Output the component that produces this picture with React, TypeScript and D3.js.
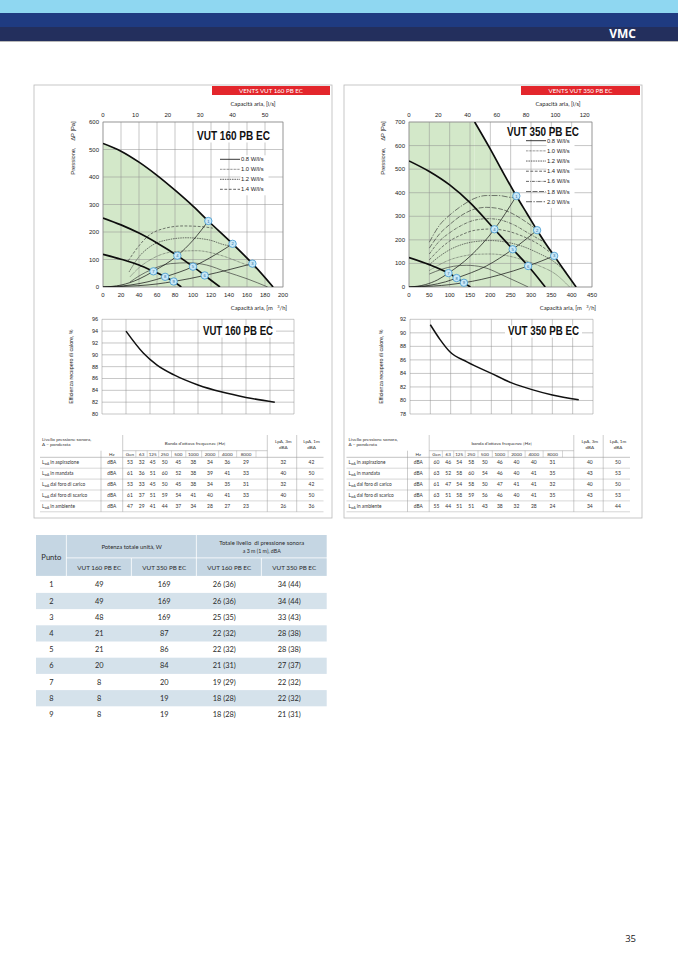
import * as d3 from "d3";

type Pt = [number, number];

// ---------- VUT 160 PB EC : pressure vs air flow ----------
const flow160Ticks = [0, 20, 40, 60, 80, 100, 120, 140, 160, 180, 200];
const ls160Ticks = [0, 10, 20, 30, 40, 50];
const pres160Ticks = [0, 100, 200, 300, 400, 500, 600];
const fanHigh160: Pt[] = [[0, 522], [20, 494], [40, 454], [60, 406], [80, 352], [100, 294], [117, 240], [144, 157], [166, 85], [189, 0]];
const fanMid160: Pt[] = [[0, 251], [20, 226], [40, 196], [60, 160], [82.6, 114], [100, 74], [113, 42], [130, 0]];
const fanLow160: Pt[] = [[0, 119], [20, 101], [40, 80], [56, 57], [69, 37], [78.5, 20], [87, 0]];
const sysA160: Pt[] = [[0, 0], [20, 7], [40, 29], [56, 57], [82.6, 114], [100, 170], [117, 240]];
const sysB160: Pt[] = [[0, 0], [30, 7], [50, 19], [69, 37], [100, 74], [125, 118], [144, 157]];
const sysC160: Pt[] = [[0, 0], [40, 5], [60, 11], [78.5, 20], [113, 42], [140, 63], [166, 85]];
const points160: Pt[] = [[117, 240], [144, 157], [166, 85], [82.6, 114], [100, 74], [113, 42], [56, 57], [69, 37], [78.5, 20]];
const power160: { label: string; pts: Pt[] }[] = [
  { label: "0.8 W/l/s", pts: [[30, 18], [40, 40], [55, 65], [75, 85], [95, 88], [115, 80], [137, 55], [160, 30], [183, 0]] },
  { label: "1.0 W/l/s", pts: [[30, 37], [40, 70], [52, 98], [78, 128], [104, 132], [130, 116], [156, 85], [170, 68]] },
  { label: "1.2 W/l/s", pts: [[29, 55], [40, 110], [52, 146], [74, 173], [93, 179], [118, 171], [137, 152], [145, 150]] },
  { label: "1.4 W/l/s", pts: [[28, 95], [40, 150], [50, 185], [67, 212], [89, 222], [111, 219], [122, 214]] },
];

// ---------- VUT 350 PB EC : pressure vs air flow ----------
const flow350Ticks = [0, 50, 100, 150, 200, 250, 300, 350, 400, 450];
const ls350Ticks = [0, 20, 40, 60, 80, 100, 120];
const pres350Ticks = [0, 100, 200, 300, 400, 500, 600, 700];
const fanHigh350: Pt[] = [[161.5, 700], [200, 585], [230, 490], [264, 386], [290, 312], [315, 241], [335, 187], [357, 132], [385, 63], [411, 0]];
const fanMid350: Pt[] = [[0, 535], [50, 490], [100, 433], [150, 358], [210, 245], [255, 160], [293, 89], [335, 0]];
const fanLow350: Pt[] = [[0, 125], [50, 95], [97, 59], [117, 38], [135, 18], [151, 0]];
const sysA350: Pt[] = [[0, 0], [40, 10], [70, 30], [97, 59], [150, 130], [210, 245], [264, 386]];
const sysB350: Pt[] = [[0, 0], [50, 7], [90, 22], [117, 38], [190, 89], [255, 160], [315, 241]];
const sysC350: Pt[] = [[0, 0], [60, 4], [100, 10], [135, 18], [220, 50], [293, 89], [357, 132]];
const points350: Pt[] = [[264, 386], [315, 241], [357, 132], [210, 245], [255, 160], [293, 89], [97, 59], [117, 38], [135, 18]];
const power350: { label: string; pts: Pt[] }[] = [
  { label: "0.8 W/l/s", pts: [[50, 55], [80, 75], [110, 88], [141, 92], [180, 85], [239, 43], [293, 0]] },
  { label: "1.0 W/l/s", pts: [[50, 70], [75, 95], [100, 115], [130, 130], [160, 138], [200, 140], [240, 133], [280, 115], [320, 90], [360, 55], [395, 0]] },
  { label: "1.2 W/l/s", pts: [[50, 95], [75, 130], [100, 158], [130, 180], [160, 192], [200, 197], [240, 190], [280, 172], [320, 142], [350, 115], [388, 62]] },
  { label: "1.4 W/l/s", pts: [[50, 115], [75, 160], [100, 195], [130, 222], [160, 240], [200, 246], [240, 238], [280, 215], [320, 180], [358, 132]] },
  { label: "1.6 W/l/s", pts: [[50, 140], [75, 195], [100, 230], [130, 262], [160, 283], [195, 290], [230, 282], [260, 262], [290, 232], [335, 188]] },
  { label: "1.8 W/l/s", pts: [[50, 165], [75, 225], [100, 265], [130, 305], [160, 330], [190, 338], [220, 333], [250, 315], [280, 285], [312, 246]] },
  { label: "2.0 W/l/s", pts: [[50, 190], [75, 262], [100, 305], [130, 345], [160, 375], [190, 388], [220, 388], [250, 380], [266, 378]] },
];

// ---------- heat recovery efficiency ----------
const eff160XTicks = [0, 25, 50, 75, 100, 125, 150, 175, 200];
const eff160YTicks = [80, 82, 84, 86, 88, 90, 92, 94, 96];
const eff160: Pt[] = [[25, 94], [43, 90.3], [57, 88.3], [75, 86.6], [100, 84.9], [125, 83.7], [150, 82.8], [180, 82.0]];
const eff350XTicks = [0, 50, 100, 150, 200, 250, 300, 350, 400, 450];
const eff350YTicks = [78, 80, 82, 84, 86, 88, 90, 92];
const eff350: Pt[] = [[50, 91.2], [74, 89], [98, 87.2], [140, 85.7], [200, 84], [250, 82.6], [300, 81.6], [350, 80.8], [415, 80.1]];

// ---------- sound tables ----------
const octaveBands = ["Gen", "63", "125", "250", "500", "1000", "2000", "4000", "8000"];
const soundRows = ["in aspirazione", "in mandata", "dal foro di carico", "dal foro di scarico", "in ambiente"];
const sound160 = [
  [53, 32, 45, 50, 45, 38, 34, 36, 29, 32, 42],
  [61, 36, 51, 60, 52, 38, 39, 41, 33, 40, 50],
  [53, 33, 45, 50, 45, 38, 34, 35, 31, 32, 42],
  [61, 37, 51, 59, 54, 41, 40, 41, 33, 40, 50],
  [47, 29, 41, 44, 37, 34, 28, 27, 23, 26, 36],
];
const sound350 = [
  [60, 46, 54, 58, 50, 46, 40, 40, 31, 40, 50],
  [63, 52, 58, 60, 54, 46, 40, 41, 35, 43, 53],
  [61, 47, 54, 58, 50, 47, 41, 41, 32, 40, 50],
  [63, 51, 58, 59, 56, 46, 40, 41, 35, 43, 53],
  [55, 44, 51, 51, 43, 38, 32, 28, 24, 34, 44],
];

// ---------- summary table ----------
const punti = [1, 2, 3, 4, 5, 6, 7, 8, 9];
const potenza160 = [49, 49, 48, 21, 21, 20, 8, 8, 8];
const potenza350 = [169, 169, 169, 87, 86, 84, 20, 19, 19];
const lp160 = ["26 (36)", "26 (36)", "25 (35)", "22 (32)", "22 (32)", "21 (31)", "19 (29)", "18 (28)", "18 (28)"];
const lp350 = ["34 (44)", "34 (44)", "33 (43)", "28 (38)", "28 (38)", "27 (37)", "22 (32)", "22 (32)", "21 (31)"];

const FC = "'Liberation Sans', Arial, sans-serif";
const FD = "Lato, 'Open Sans', sans-serif";
const GRID = "#8f8f8f";
const GREEN = "#d3e8c9";

const dashFor: Record<string, string> = {
  "0.8": "",
  "1.0": "0.7,0.7",
  "1.2": "1.6,0.8",
  "1.4": "2.8,1.6",
  "1.6": "3,1,0.8,1",
  "1.8": "5,1.5",
  "2.0": "6,1.4,1.4,1.4",
};

interface PressureProps {
  id: string;
  left: number; right: number; top: number; bottom: number;
  flowMax: number; presMax: number;
  flowTicks: number[]; lsTicks: number[]; presTicks: number[];
  fans: Pt[][]; systems: Pt[][]; powers: { label: string; pts: Pt[] }[]; points: Pt[];
  title: string; titleX: number; titleY: number; titleW: number;
  legendX: number; legendY: number; legendStep: number;
  yTitleX: number; topTitleX: number;
}

function PressureChart(p: PressureProps) {
  const x = d3.scaleLinear().domain([0, p.flowMax]).range([p.left, p.right]);
  const y = d3.scaleLinear().domain([0, p.presMax]).range([p.bottom, p.top]);
  const xls = d3.scaleLinear().domain([0, p.flowMax / 3.6]).range([p.left, p.right]);
  const line = d3.line<Pt>().x((d) => x(d[0])).y((d) => y(d[1])).curve(d3.curveMonotoneX);
  const area = d3.area<Pt>().x((d) => x(d[0])).y0(y(0)).y1((d) => y(d[1])).curve(d3.curveMonotoneX);
  const high = p.fans[0];
  return (
    <g>
      <defs>
        <clipPath id={p.id}>
          <rect x={p.left} y={p.top} width={p.right - p.left} height={p.bottom - p.top} />
        </clipPath>
      </defs>
      <g clipPath={`url(#${p.id})`}>
        <rect x={x(0)} y={p.top} width={x(high[0][0]) - x(0)} height={p.bottom - p.top} fill={GREEN} />
        <path d={area(high) || ""} fill={GREEN} />
      </g>
      {p.flowTicks.map((t) => (
        <line key={"vx" + t} x1={x(t)} x2={x(t)} y1={p.top} y2={p.bottom} stroke={GRID} strokeWidth={0.5} />
      ))}
      {p.presTicks.map((t) => (
        <line key={"hy" + t} x1={p.left} x2={p.right} y1={y(t)} y2={y(t)} stroke={GRID} strokeWidth={0.5} />
      ))}
      <rect x={p.left} y={p.top} width={p.right - p.left} height={p.bottom - p.top} fill="none" stroke={GRID} strokeWidth={0.6} />
      {/* title + legend */}
      <rect x={p.titleX - 3} y={p.titleY - 9} width={p.titleW + 6} height={12} fill="#fff" />
      <text x={p.titleX} y={p.titleY} fontFamily={FC} fontWeight="bold" fontSize={12} fill="#111"
        textLength={p.titleW} lengthAdjust="spacingAndGlyphs">{p.title}</text>
      <rect x={p.legendX + 20.5} y={p.legendY - 4} width={28} height={p.legendStep * p.powers.length} fill="#fff" />
      {p.powers.map((pw, i) => {
        const ly = p.legendY + i * p.legendStep;
        return (
          <g key={pw.label}>
            <line x1={p.legendX} x2={p.legendX + 20} y1={ly} y2={ly} stroke="#222"
              strokeWidth={pw.label.startsWith("0.8") ? 0.9 : 0.7} strokeDasharray={dashFor[pw.label.slice(0, 3)]} />
            <text x={p.legendX + 21} y={ly + 2} fontFamily={FC} fontSize={5.8} fill="#222">{pw.label}</text>
          </g>
        );
      })}
      <g clipPath={`url(#${p.id})`} fill="none">
        {p.powers.map((pw) => (
          <path key={"pw" + pw.label} d={line(pw.pts) || ""} stroke="#333" strokeWidth={0.65}
            strokeDasharray={dashFor[pw.label.slice(0, 3)]} />
        ))}
        {p.systems.map((s, i) => (
          <path key={"sys" + i} d={line(s) || ""} stroke="#1a1a1a" strokeWidth={0.75} />
        ))}
        {p.fans.map((f, i) => (
          <path key={"fan" + i} d={line(f) || ""} stroke="#0d0d0d" strokeWidth={1.7} />
        ))}
      </g>
      {p.points.map((pt, i) => (
        <g key={"pt" + i}>
          <circle cx={x(pt[0])} cy={y(pt[1])} r={3.7} fill="#c9e8f7" stroke="#3f97cf" strokeWidth={0.8} />
          <text x={x(pt[0])} y={y(pt[1]) + 1.5} textAnchor="middle" fontFamily={FC} fontSize={4.2} fill="#2a6f9e">{i + 1}</text>
        </g>
      ))}
      {/* axes labels */}
      {p.presTicks.map((t) => (
        <text key={"yl" + t} x={p.left - 4} y={y(t) + 2} textAnchor="end" fontFamily={FC} fontSize={6} fill="#222">{t}</text>
      ))}
      {p.flowTicks.map((t) => (
        <text key={"xl" + t} x={x(t)} y={p.bottom + 10} textAnchor="middle" fontFamily={FC} fontSize={6} fill="#222">{t}</text>
      ))}
      {p.lsTicks.map((t) => (
        <text key={"ls" + t} x={xls(t)} y={p.top - 5} textAnchor="middle" fontFamily={FC} fontSize={6} fill="#222">{t}</text>
      ))}
      <text x={p.topTitleX} y={p.top - 16} textAnchor="middle" fontFamily={FD} fontSize={5.8} fill="#222">
        Capacità aria, [l/s]
      </text>
      <text x={p.right + 4} y={p.bottom + 23} textAnchor="end" fontFamily={FD} fontSize={5.8} fill="#222" style={{ whiteSpace: "pre" }}>
        {"Capacità aria, [m   "}
        <tspan fontSize={4} dy={-2}>3</tspan>
        <tspan dy={2}>/h]</tspan>
      </text>
      <text transform={`translate(${p.yTitleX},${p.top + 26}) rotate(-90)`} textAnchor="middle" fontFamily={FC} fontSize={5.8} fill="#222"
        style={{ whiteSpace: "pre" }}>
        {"Pressione,    ΔP [Pa]"}
      </text>
    </g>
  );
}

interface EffProps {
  left: number; right: number; top: number; bottom: number;
  xTicks: number[]; yTicks: number[]; data: Pt[];
  title: string; titleX: number; titleY: number; titleW: number; yTitleX: number;
}

function EfficiencyChart(p: EffProps) {
  const x = d3.scaleLinear().domain([p.xTicks[0], p.xTicks[p.xTicks.length - 1]]).range([p.left, p.right]);
  const y = d3.scaleLinear().domain([p.yTicks[0], p.yTicks[p.yTicks.length - 1]]).range([p.bottom, p.top]);
  const line = d3.line<Pt>().x((d) => x(d[0])).y((d) => y(d[1])).curve(d3.curveMonotoneX);
  return (
    <g>
      {p.xTicks.map((t) => (
        <line key={"vx" + t} x1={x(t)} x2={x(t)} y1={p.top} y2={p.bottom} stroke={GRID} strokeWidth={0.5} />
      ))}
      {p.yTicks.map((t) => (
        <line key={"hy" + t} x1={p.left} x2={p.right} y1={y(t)} y2={y(t)} stroke={GRID} strokeWidth={0.5} />
      ))}
      {p.yTicks.map((t) => (
        <text key={"yl" + t} x={p.left - 4} y={y(t) + 2} textAnchor="end" fontFamily={FC} fontSize={5.5} fill="#222">{t}</text>
      ))}
      <rect x={p.titleX - 3} y={p.titleY - 9} width={p.titleW + 6} height={12} fill="#fff" />
      <text x={p.titleX} y={p.titleY} fontFamily={FC} fontWeight="bold" fontSize={12} fill="#111"
        textLength={p.titleW} lengthAdjust="spacingAndGlyphs">{p.title}</text>
      <path d={line(p.data) || ""} fill="none" stroke="#111" strokeWidth={1.5} />
      <text transform={`translate(${p.yTitleX},${(p.top + p.bottom) / 2}) rotate(-90)`} textAnchor="middle" fontFamily={FC} fontSize={5.3} fill="#222">
        Efficienza recupero di calore, %
      </text>
    </g>
  );
}

function SoundTable({ dx, data, bandTitle }: { dx: number; data: number[][]; bandTitle: string }) {
  const octX = [130, 141.7, 152.7, 164.7, 178.3, 193.3, 210, 227.3, 246].map((v) => v + dx);
  const sep = octX.slice(1).map((v, i) => (v + octX[i]) / 2);
  const c3 = 283.3 + dx, c1 = 311.5 + dx;
  const vHz = 101 + dx, vGen = 122.7 + dx, v3 = 267.3 + dx, v1 = 296.7 + dx, xEnd = 323.5 + dx, xStart = 40 + dx;
  const top = 435, h1 = 450.7, h2 = 457.3, rowH = 10.9;
  const rowsY = data.map((_, i) => h2 + i * rowH);
  const bottom = h2 + data.length * rowH;
  const ln = "#9a9a9a";
  return (
    <g fontFamily={FD} fill="#333">
      <line x1={vGen} x2={vGen} y1={top} y2={bottom} stroke={ln} strokeWidth={0.5} />
      <line x1={v3} x2={v3} y1={top} y2={bottom} stroke={ln} strokeWidth={0.5} />
      <line x1={v1} x2={v1} y1={top} y2={bottom} stroke={ln} strokeWidth={0.5} />
      <line x1={vHz} x2={vHz} y1={h1} y2={bottom} stroke={ln} strokeWidth={0.5} />
      <line x1={vGen} x2={v3} y1={h1} y2={h1} stroke={ln} strokeWidth={0.5} />
      {sep.map((s, i) => (
        <line key={"s" + i} x1={s} x2={s} y1={h1} y2={h2} stroke={ln} strokeWidth={0.4} />
      ))}
      <line x1={246 + dx + 10} x2={246 + dx + 10} y1={h1} y2={h2} stroke={ln} strokeWidth={0.4} />
      {rowsY.map((ry, i) => (
        <line key={"r" + i} x1={xStart} x2={xEnd} y1={ry} y2={ry} stroke={ln} strokeWidth={i === 0 ? 0.6 : 0.4} />
      ))}
      <line x1={xStart} x2={xEnd} y1={bottom} y2={bottom} stroke={ln} strokeWidth={0.4} />
      <text x={xStart + 2} y={440.5} fontSize={4.6}>Livello pressione sonora,</text>
      <text x={xStart + 2} y={446} fontSize={4.6}>A – ponderata</text>
      <text x={(vHz + vGen) / 2} y={455.6} fontSize={4.6} textAnchor="middle">Hz</text>
      <text x={(vGen + v3) / 2} y={444.5} fontSize={4.6} textAnchor="middle">{bandTitle}</text>
      {octaveBands.map((b, i) => (
        <text key={b} x={octX[i]} y={455.6} fontSize={4.6} textAnchor="middle">{b}</text>
      ))}
      <text x={c3} y={443} fontSize={4.6} textAnchor="middle">LpA, 3m</text>
      <text x={c3} y={448.5} fontSize={4.6} textAnchor="middle">dBA</text>
      <text x={c1} y={443} fontSize={4.6} textAnchor="middle">LpA, 1m</text>
      <text x={c1} y={448.5} fontSize={4.6} textAnchor="middle">dBA</text>
      {data.map((row, r) => {
        const ty = rowsY[r] + rowH / 2 + 1.7;
        return (
          <g key={"row" + r}>
            <text x={xStart + 2} y={ty} fontSize={4.8}>
              L<tspan fontSize={3.2} dy={1}>wA</tspan>
              <tspan dy={-1}>{" " + soundRows[r]}</tspan>
            </text>
            <text x={(vHz + vGen) / 2} y={ty} fontSize={4.8} textAnchor="middle">dBA</text>
            {row.slice(0, 9).map((v, i) => (
              <text key={i} x={octX[i]} y={ty} fontSize={5} textAnchor="middle">{v}</text>
            ))}
            <text x={c3} y={ty} fontSize={5} textAnchor="middle">{row[9]}</text>
            <text x={c1} y={ty} fontSize={5} textAnchor="middle">{row[10]}</text>
          </g>
        );
      })}
    </g>
  );
}

function SummaryTable() {
  const cols = [36, 66.7, 131.7, 196.7, 261.7, 326.7];
  const top = 535, h1 = 558.3, h2 = 576.7, rowH = 16.2;
  const head = "#c5d6e3", band = "#d5e2eb";
  const cx = (i: number) => (cols[i] + cols[i + 1]) / 2;
  return (
    <g fontFamily={FD} fill="#2b2b2b">
      <rect x={cols[0]} y={top} width={cols[1] - cols[0] - 0.8} height={h2 - top - 0.8} fill={head} />
      <rect x={cols[1]} y={top} width={cols[3] - cols[1] - 0.8} height={h1 - top - 0.8} fill={head} />
      <rect x={cols[3]} y={top} width={cols[5] - cols[3]} height={h1 - top - 0.8} fill={head} />
      {[1, 2, 3, 4].map((i) => (
        <rect key={"sh" + i} x={cols[i]} y={h1} width={cols[i + 1] - cols[i] - (i < 4 ? 0.8 : 0)} height={h2 - h1 - 0.8} fill={head} />
      ))}
      <text x={cx(0)} y={h1 + 2} fontSize={7.6} textAnchor="middle">Punto</text>
      <text x={(cols[1] + cols[3]) / 2} y={548.8} fontSize={5.9} textAnchor="middle">Potenza totale unità, W</text>
      <text x={(cols[3] + cols[5]) / 2} y={544.8} fontSize={5.9} textAnchor="middle" style={{ whiteSpace: "pre" }}>Totale livello  di pressione sonora</text>
      <text x={(cols[3] + cols[5]) / 2} y={552.8} fontSize={5.3} textAnchor="middle">a 3 m (1 m), dBA</text>
      {["VUT 160 PB EC", "VUT 350 PB EC", "VUT 160 PB EC", "VUT 350 PB EC"].map((s, i) => (
        <text key={"sub" + i} x={cx(i + 1)} y={570} fontSize={6.3} textAnchor="middle">{s}</text>
      ))}
      {punti.map((pn, r) => {
        const ry = h2 + r * rowH;
        const ty = ry + rowH / 2 + 2.6;
        return (
          <g key={"pr" + r}>
            {r % 2 === 1 && <rect x={cols[0]} y={ry} width={cols[5] - cols[0]} height={rowH} fill={band} />}
            <text x={cx(0)} y={ty} fontSize={7.4} textAnchor="middle">{pn}</text>
            <text x={cx(1)} y={ty} fontSize={7.4} textAnchor="middle">{potenza160[r]}</text>
            <text x={cx(2)} y={ty} fontSize={7.4} textAnchor="middle">{potenza350[r]}</text>
            <text x={cx(3) - 5} y={ty} fontSize={7.4} textAnchor="middle">{lp160[r]}</text>
            <text x={cx(4) - 5} y={ty} fontSize={7.4} textAnchor="middle">{lp350[r]}</text>
          </g>
        );
      })}
    </g>
  );
}

export default function App() {
  return (
    <svg width={678} height={959} viewBox="0 0 678 959"
      style={{ position: "absolute", left: 0, top: 0, background: "#fff" }}>
      {/* page header */}
      <rect x={0} y={0} width={678} height={13} fill="#8fd7f1" />
      <rect x={0} y={13} width={678} height={14} fill="#1f3b81" />
      <rect x={0} y={27} width={678} height={14} fill="#232f5d" />
      <rect x={0} y={41} width={678} height={1} fill="#b8b8b8" />
      <text x={636} y={38} textAnchor="end" fontFamily="'Open Sans', sans-serif" fontWeight="bold" fontSize={12} fill="#fff">VMC</text>

      {/* panels */}
      <rect x={34} y={85} width={298} height={433} fill="none" stroke="#b9b9b9" strokeWidth={0.8} />
      <rect x={344} y={85} width={298} height={433} fill="none" stroke="#b9b9b9" strokeWidth={0.8} />
      <rect x={212} y={86} width={118} height={9} fill="#e3262c" />
      <text x={271} y={92.7} textAnchor="middle" fontFamily={FD} fontSize={6.2} fill="#fff">VENTS VUT 160 PB EC</text>
      <rect x={521} y={86} width={119} height={9} fill="#e3262c" />
      <text x={580.5} y={92.7} textAnchor="middle" fontFamily={FD} fontSize={6.2} fill="#fff">VENTS VUT 350 PB EC</text>

      <PressureChart id="clip160" left={103} right={283} top={122} bottom={287}
        flowMax={200} presMax={600} flowTicks={flow160Ticks} lsTicks={ls160Ticks} presTicks={pres160Ticks}
        fans={[fanHigh160, fanMid160, fanLow160]} systems={[sysA160, sysB160, sysC160]} powers={power160} points={points160}
        title="VUT 160 PB EC" titleX={197} titleY={139.5} titleW={73}
        legendX={220} legendY={159.3} legendStep={10} yTitleX={75} topTitleX={253} />
      <PressureChart id="clip350" left={409} right={592} top={122} bottom={287}
        flowMax={450} presMax={700} flowTicks={flow350Ticks} lsTicks={ls350Ticks} presTicks={pres350Ticks}
        fans={[fanHigh350, fanMid350, fanLow350]} systems={[sysA350, sysB350, sysC350]} powers={power350} points={points350}
        title="VUT 350 PB EC" titleX={507} titleY={136} titleW={72}
        legendX={526} legendY={140.7} legendStep={10.17} yTitleX={385} topTitleX={558} />

      <EfficiencyChart left={102} right={294} top={319.3} bottom={414} xTicks={eff160XTicks} yTicks={eff160YTicks}
        data={eff160} title="VUT 160 PB EC" titleX={203} titleY={334.5} titleW={70} yTitleX={73} />
      <EfficiencyChart left={410} right={593} top={319.3} bottom={414} xTicks={eff350XTicks} yTicks={eff350YTicks}
        data={eff350} title="VUT 350 PB EC" titleX={508} titleY={334.5} titleW={71} yTitleX={383} />

      <SoundTable dx={0} data={sound160} bandTitle="Banda d'ottava frequenze [Hz]" />
      <SoundTable dx={306.5} data={sound350} bandTitle="banda d'ottava frequenze [Hz]" />

      <SummaryTable />

      <text x={636} y={942} textAnchor="end" fontFamily="'Open Sans', sans-serif" fontSize={9.5} fill="#222">35</text>
    </svg>
  );
}
